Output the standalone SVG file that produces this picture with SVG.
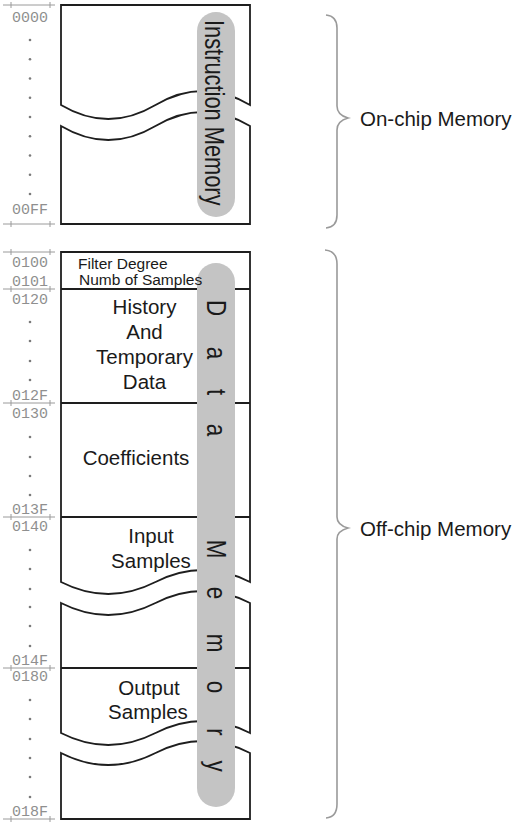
<svg xmlns="http://www.w3.org/2000/svg" width="518" height="826" viewBox="0 0 518 826">
<style>
.box{fill:#fff;stroke:#1e1e1e;stroke-width:1.8}
.sep{stroke:#1e1e1e;stroke-width:1.8}
.pill{fill:#c4c4c4}
.addr{font-family:"Liberation Mono","DejaVu Sans Mono",monospace;font-size:15px;fill:#8f8f8f}
.tick{stroke:#9a9a9a;stroke-width:1;fill:none}
.dot{fill:#7a7a7a}
.lbl{font-family:"Liberation Sans",Arial,sans-serif;font-size:20.5px;fill:#1a1a1a;text-anchor:middle}
.small{font-family:"Liberation Sans",Arial,sans-serif;font-size:15.5px;fill:#1a1a1a}
.vert{font-family:"Liberation Sans",Arial,sans-serif;font-size:28px;fill:#1a1a1a}
.brace{fill:none;stroke:#9a9a9a;stroke-width:1.6}
.side{font-family:"Liberation Sans",Arial,sans-serif;font-size:20.5px;fill:#1a1a1a}
</style>
<rect width="518" height="826" fill="#fff"/>

<g id="instruction-memory">
<path class="box" d="M61,105 C92.5,123.7 124,123.7 155.5,105 S218.5,86.3 250,105 L250,5 L61,5 Z"/>
<path class="box" d="M61,126 C92.5,144.7 124,144.7 155.5,126 S218.5,107.3 250,126 L250,224 L61,224 Z"/>
<rect class="pill" x="197" y="12" width="38" height="205" rx="19"/>
<text class="vert" transform="translate(205,0) rotate(90) scale(0.78,1)" x="25.6" y="0">Instruction Memory</text>
</g>

<g id="instruction-addresses">
<path class="tick" d="M3,5 H55 M11,2 V8 M50,2 V8"/>
<path class="tick" d="M3,224 H55 M11,221 V227 M50,221 V227"/>
<text class="addr" x="12" y="22">0000</text>
<text class="addr" x="12" y="214">00FF</text>
<g class="dot">
<circle cx="30" cy="40" r="1.3"/><circle cx="30" cy="59.3" r="1.3"/><circle cx="30" cy="78.5" r="1.3"/>
<circle cx="30" cy="97.8" r="1.3"/><circle cx="30" cy="117" r="1.3"/><circle cx="30" cy="136.3" r="1.3"/>
<circle cx="30" cy="155.5" r="1.3"/><circle cx="30" cy="174.8" r="1.3"/><circle cx="30" cy="194" r="1.3"/>
</g>
</g>

<g id="data-memory">
<path class="box" d="M61,582 C92.5,598 124,598 155.5,582 S218.5,566 250,582 L250,252 L61,252 Z"/>
<path class="box" d="M61,603 C92.5,619 124,619 155.5,603 S218.5,587 250,603 L250,733 C218.5,717 187,717 155.5,733 C124,749 92.5,749 61,733 Z"/>
<path class="box" d="M61,753 C92.5,769 124,769 155.5,753 S218.5,737 250,753 L250,819 L61,819 Z"/>
<path class="sep" d="M61,289 H250 M61,403 H250 M61,517 H250 M61,668 H250"/>
<rect class="pill" x="197" y="263" width="38" height="544" rx="19"/>
<text class="vert" text-anchor="middle" transform="translate(207,0) rotate(90) scale(0.8,1)" x="385 441.25 490 537.5 612.5 686.25 741.25 803.75 858.75 915 957.5" y="0">Data Memory</text>
</g>

<g id="cell-header">
<text class="small" x="78" y="269">Filter Degree</text>
<text class="small" x="79" y="285">Numb of Samples</text>
</g>
<g id="cell-history">
<text class="lbl" x="144.5" y="314">History</text>
<text class="lbl" x="144.5" y="339">And</text>
<text class="lbl" x="144.5" y="364">Temporary</text>
<text class="lbl" x="144.5" y="389">Data</text>
</g>
<g id="cell-coefficients">
<text class="lbl" x="136" y="465">Coefficients</text>
</g>
<g id="cell-input">
<text class="lbl" x="151" y="543">Input</text>
<text class="lbl" x="151" y="568">Samples</text>
</g>
<g id="cell-output">
<text class="lbl" x="149" y="695">Output</text>
<text class="lbl" x="148" y="719">Samples</text>
</g>

<g id="data-addresses">
<path class="tick" d="M3,252 H55 M11,249 V255 M50,249 V255"/>
<path class="tick" d="M3,289 H55 M11,286 V292 M50,286 V292"/>
<path class="tick" d="M3,403 H55 M11,400 V406 M50,400 V406"/>
<path class="tick" d="M3,517 H55 M11,514 V520 M50,514 V520"/>
<path class="tick" d="M3,668 H55 M11,665 V671 M50,665 V671"/>
<path class="tick" d="M3,819 H55 M11,816 V822 M50,816 V822"/>
<text class="addr" x="12" y="267">0100</text>
<text class="addr" x="12" y="286">0101</text>
<text class="addr" x="12" y="304">0120</text>
<text class="addr" x="12" y="400">012F</text>
<text class="addr" x="12" y="418">0130</text>
<text class="addr" x="12" y="514">013F</text>
<text class="addr" x="12" y="531">0140</text>
<text class="addr" x="12" y="665">014F</text>
<text class="addr" x="12" y="681">0180</text>
<text class="addr" x="12" y="816">018F</text>
<g class="dot">
<circle cx="30" cy="322" r="1.3"/><circle cx="30" cy="341" r="1.3"/><circle cx="30" cy="361" r="1.3"/><circle cx="30" cy="380" r="1.3"/>
<circle cx="30" cy="437" r="1.3"/><circle cx="30" cy="457" r="1.3"/><circle cx="30" cy="476" r="1.3"/><circle cx="30" cy="495" r="1.3"/>
<circle cx="30" cy="550" r="1.3"/><circle cx="30" cy="569" r="1.3"/><circle cx="30" cy="589" r="1.3"/><circle cx="30" cy="607" r="1.3"/><circle cx="30" cy="626" r="1.3"/><circle cx="30" cy="646" r="1.3"/>
<circle cx="30" cy="700" r="1.3"/><circle cx="30" cy="719" r="1.3"/><circle cx="30" cy="739" r="1.3"/><circle cx="30" cy="758" r="1.3"/><circle cx="30" cy="777" r="1.3"/><circle cx="30" cy="797" r="1.3"/>
</g>
</g>

<g id="connectors">
<path class="brace" d="M326,15 Q337,16 337,28 L337,106 Q337,115 348,118 Q337,121 337,130 L337,215 Q337,227 326,228"/>
<path class="brace" d="M325,250 Q337,251 337,264 L337,517 Q337,525 348,528 Q337,531 337,539 L337,804 Q337,817 326,818"/>
</g>

<g id="on-chip-label">
<text class="side" x="360" y="126">On-chip Memory</text>
</g>
<g id="off-chip-label">
<text class="side" x="360" y="536">Off-chip Memory</text>
</g>
</svg>
